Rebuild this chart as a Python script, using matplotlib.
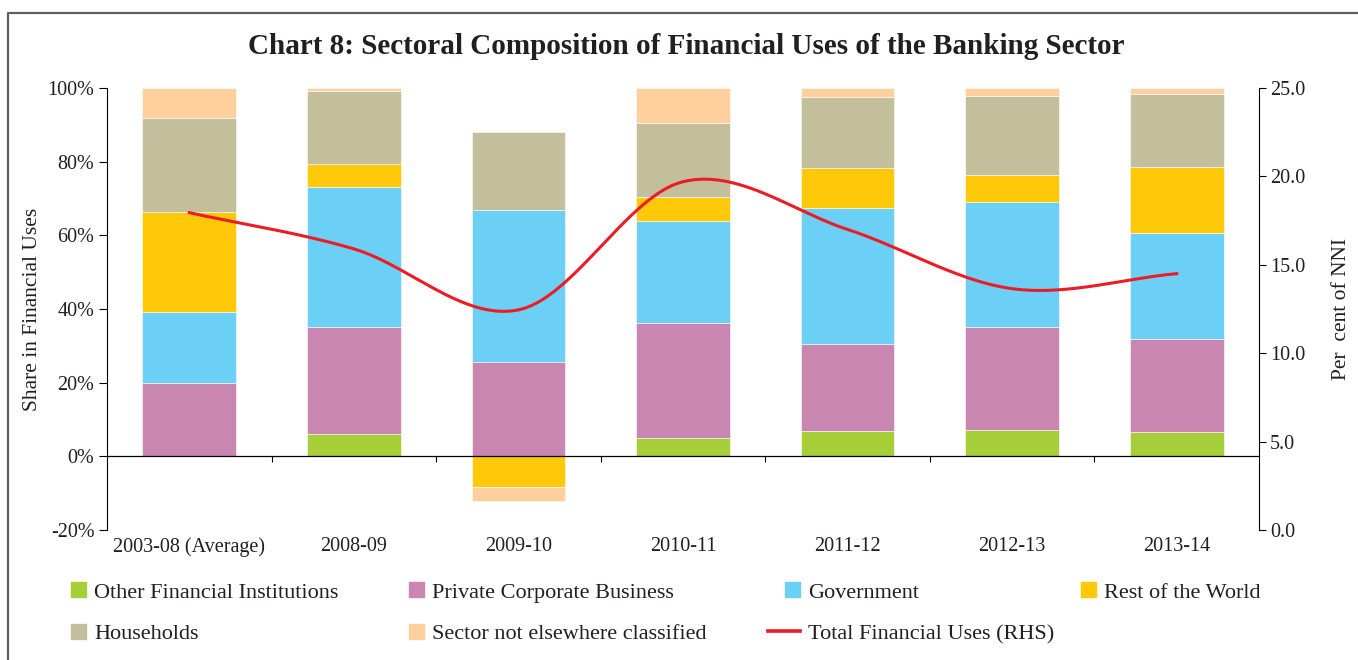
import numpy as np
import matplotlib
matplotlib.use("Agg")
from matplotlib import pyplot as plt
import matplotlib.patches as mpatches
from matplotlib.lines import Line2D
from matplotlib.legend_handler import HandlerPatch

plt.rcParams['font.family'] = ['Liberation Serif', 'DejaVu Serif']

categories = ["2003-08 (Average)", "2008-09", "2009-10", "2010-11",
              "2011-12", "2012-13", "2013-14"]

# share in financial uses (%)
other_fin = [0.0, 6.0, 0.0, 4.9, 6.8, 7.2, 6.6]
pvt_corp = [19.9, 29.2, 25.6, 31.3, 23.7, 27.8, 25.3]
govt = [19.3, 37.8, 41.4, 27.7, 36.8, 34.1, 28.6]
rest_world = [27.2, 6.5, -8.3, 6.5, 10.9, 7.2, 18.1]
households = [25.5, 19.8, 21.0, 20.2, 19.4, 21.4, 19.9]
sector_nec = [8.1, 0.7, -3.8, 9.4, 2.4, 2.3, 1.5]

# total financial uses, per cent of NNI (RHS)
total_uses = [17.95, 15.9, 12.45, 19.7, 17.0, 13.65, 14.5]

series = [
    ("Other Financial Institutions", other_fin, "#a6ce39"),
    ("Private Corporate Business", pvt_corp, "#c886b0"),
    ("Government", govt, "#6ccff6"),
    ("Rest of the World", rest_world, "#ffc90a"),
    ("Households", households, "#c3bf9c"),
    ("Sector not elsewhere classified", sector_nec, "#ffd09e"),
]
line_color = "#ed1c24"
text_color = "#231f20"


def smooth(xs, ys, n=30):
    # catmull-rom spline through the points, like a spreadsheet "smoothed line"
    xs = np.asarray(xs, float)
    ys = np.asarray(ys, float)
    px = np.concatenate([[2 * xs[0] - xs[1]], xs, [2 * xs[-1] - xs[-2]]])
    py = np.concatenate([[2 * ys[0] - ys[1]], ys, [2 * ys[-1] - ys[-2]]])
    out_x, out_y = [], []
    t = np.linspace(0, 1, n)
    for i in range(1, len(px) - 2):
        for p, out in ((px, out_x), (py, out_y)):
            p0, p1, p2, p3 = p[i - 1], p[i], p[i + 1], p[i + 2]
            out.extend(0.5 * (2 * p1 + (-p0 + p2) * t
                              + (2 * p0 - 5 * p1 + 4 * p2 - p3) * t ** 2
                              + (-p0 + 3 * p1 - 3 * p2 + p3) * t ** 3))
    return np.array(out_x), np.array(out_y)


fig = plt.figure(figsize=(13.58, 6.6), dpi=100)
ax = fig.add_axes([107 / 1358, 1 - 530 / 660, (1259 - 107) / 1358, (530 - 88) / 660])

x = np.arange(len(categories))
pos_base = np.zeros(len(x))
neg_base = np.zeros(len(x))
handles = {}
for name, vals, color in series:
    vals = np.array(vals)
    bottom = np.where(vals >= 0, pos_base, neg_base)
    ax.bar(x, vals, width=0.57, bottom=bottom, color=color,
           edgecolor="white", linewidth=0.4, zorder=2)
    handles[name] = mpatches.Patch(color=color, label=name)
    pos_base += np.where(vals >= 0, vals, 0)
    neg_base += np.where(vals < 0, vals, 0)

ax.set_xlim(-0.5, len(x) - 0.5)
ax.set_ylim(-20, 100)
ax.set_yticks(np.arange(-20, 101, 20))
ax.set_yticklabels([f"{v}%" for v in range(-20, 101, 20)])
ax.tick_params(axis='y', direction='out', length=6, width=0.8, labelsize=14.5,
               pad=3, labelcolor=text_color)
ax.set_ylabel("Share in Financial Uses", fontsize=15.5, labelpad=4, color=text_color)

# category axis drawn at zero, labels kept at the bottom
ax.spines['top'].set_visible(False)
ax.spines['right'].set_visible(False)
ax.spines['bottom'].set_position(('data', 0))
ax.spines['bottom'].set_linewidth(0.9)
ax.spines['left'].set_linewidth(0.8)
ax.set_xticks([])
ax.set_xticks(x[:-1] + 0.5, minor=True)
ax.tick_params(axis='x', which='minor', direction='out', length=4, width=0.8)

cat_ax = ax.secondary_xaxis(0)
cat_ax.set_xticks(x)
cat_ax.set_xticklabels(categories)
cat_ax.tick_params(length=0, labelsize=14.5, pad=5, labelcolor=text_color)
cat_ax.spines['bottom'].set_visible(False)

ax2 = ax.twinx()
ax2.set_ylim(0, 25)
ax2.set_yticks(np.arange(0, 26, 5))
ax2.set_yticklabels([f"{v:.1f}" for v in range(0, 26, 5)])
ax2.tick_params(axis='y', direction='out', length=5, width=0.8, labelsize=14.5,
                pad=3, labelcolor=text_color)
for s in ('top', 'bottom', 'left'):
    ax2.spines[s].set_visible(False)
ax2.spines['right'].set_linewidth(0.8)
ax2.set_ylabel("Per  cent of NNI", fontsize=15.5, labelpad=19, color=text_color)

sx, sy = smooth(x, total_uses)
ax2.plot(sx, sy, color=line_color, linewidth=2.2, zorder=3)
handles["Total Financial Uses (RHS)"] = Line2D([], [], color=line_color, linewidth=2.6,
                                               label="Total Financial Uses (RHS)")

fig.text(0.505, 1 - 46 / 660, "Chart 8: Sectoral Composition of Financial Uses of the Banking Sector",
         ha='center', va='center', fontsize=21, fontweight='bold', color=text_color)


def square_patch(legend, orig_handle, xdescent, ydescent, width, height, fontsize):
    side = 15 * 72 / 100
    return mpatches.Rectangle((-xdescent + width - side, -ydescent + (height - side) / 2),
                              side, side)


columns = [
    (54, ["Other Financial Institutions", "Households"]),
    (392, ["Private Corporate Business", "Sector not elsewhere classified"]),
    (768, ["Government", "Total Financial Uses (RHS)"]),
    (1064, ["Rest of the World"]),
]
for left, names in columns:
    fig.legend([handles[n] for n in names], names,
               loc='upper left', bbox_to_anchor=(left / 1358, 1 - 582 / 660),
               frameon=False, fontsize=16, borderpad=0, borderaxespad=0,
               handlelength=1.45, handleheight=0.7, handletextpad=0.35,
               labelspacing=0.95, labelcolor=text_color,
               handler_map={mpatches.Patch: HandlerPatch(patch_func=square_patch)})

# thin grey frame along the top and left edge
fig.add_artist(Line2D([8 / 1358, 8 / 1358, 1.0], [0.0, 1 - 13 / 660, 1 - 13 / 660],
                      transform=fig.transFigure, color="#606060", linewidth=1.6))

fig.savefig("out.png", dpi=100)
